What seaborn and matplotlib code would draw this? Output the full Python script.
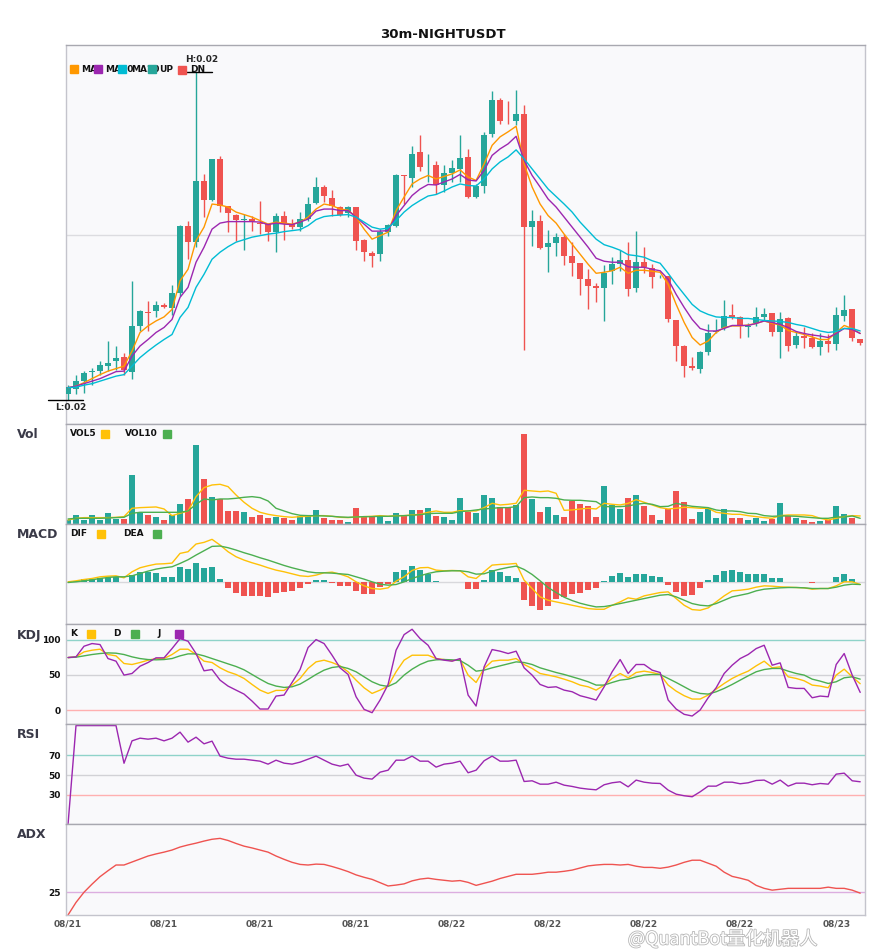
import numpy as np
import pandas as pd
import matplotlib
matplotlib.use("Agg")
import matplotlib.pyplot as plt
import matplotlib.patheffects as pe
from matplotlib.patches import Rectangle
import seaborn as sns

# ------------------------------------------------------------
# Data, prices in 1e-5 USDT
# ------------------------------------------------------------
opens = [1683, 1693, 1708, 1726, 1728, 1739, 1748, 1756, 1727, 1818,
         1845, 1847, 1860, 1853, 1884, 2018, 1985, 2106, 2070, 2150,
         2058, 2040, 2029, 2032, 2024, 2021, 2005, 2038, 2021, 2015,
         2031, 2063, 2094, 2074, 2055, 2043, 2055, 1990, 1963, 1961,
         2006, 2018, 2118, 2113, 2164, 2134, 2138, 2098, 2123, 2131,
         2154, 2076, 2097, 2201, 2269, 2227, 2227, 2240, 2015, 2028,
         1975, 1983, 1995, 1958, 1943, 1911, 1898, 1893, 1927, 1941,
         1949, 1893, 1946, 1933, 1915, 1918, 1830, 1778, 1738, 1733,
         1767, 1805, 1813, 1840, 1836, 1815, 1823, 1836, 1844, 1805,
         1833, 1780, 1798, 1795, 1777, 1789, 1783, 1838, 1852, 1792]
highs = [1701, 1721, 1728, 1735, 1749, 1788, 1778, 1765, 1907, 1850,
         1868, 1868, 1863, 1900, 2020, 2028, 2325, 2121, 2151, 2156,
         2058, 2041, 2041, 2038, 2068, 2023, 2043, 2048, 2031, 2045,
         2075, 2115, 2098, 2088, 2058, 2058, 2055, 1991, 1968, 2011,
         2021, 2121, 2118, 2176, 2198, 2160, 2146, 2138, 2148, 2198,
         2170, 2101, 2204, 2286, 2273, 2266, 2288, 2258, 2049, 2040,
         2010, 2003, 2001, 1985, 1943, 1931, 1903, 1940, 1955, 1969,
         1985, 2008, 1976, 1941, 1920, 1918, 1830, 1780, 1756, 1769,
         1821, 1831, 1870, 1861, 1838, 1823, 1856, 1853, 1844, 1846,
         1835, 1806, 1815, 1803, 1804, 1801, 1856, 1880, 1852, 1792]
lows = [1671, 1683, 1685, 1701, 1720, 1728, 1731, 1721, 1713, 1808,
        1808, 1835, 1853, 1840, 1878, 1951, 1975, 2035, 2068, 2045,
        2005, 1988, 1970, 2008, 2001, 1988, 1965, 1990, 2011, 2008,
        2028, 2061, 2065, 2038, 2037, 2035, 1970, 1947, 1936, 1948,
        1997, 2015, 2061, 2095, 2127, 2105, 2081, 2085, 2105, 2105,
        2073, 2073, 2083, 2195, 2220, 2221, 2218, 1770, 1978, 1971,
        1925, 1958, 1940, 1918, 1880, 1851, 1865, 1828, 1901, 1928,
        1877, 1885, 1923, 1893, 1913, 1825, 1748, 1717, 1731, 1725,
        1760, 1803, 1809, 1831, 1795, 1796, 1818, 1829, 1798, 1755,
        1768, 1775, 1775, 1775, 1760, 1767, 1771, 1828, 1789, 1780]
closes = [1696, 1709, 1724, 1728, 1740, 1745, 1755, 1731, 1818, 1847,
          1843, 1860, 1855, 1884, 2018, 1985, 2106, 2070, 2150, 2057,
          2043, 2030, 2030, 2028, 2022, 2005, 2038, 2021, 2015, 2031,
          2061, 2094, 2077, 2057, 2040, 2055, 1988, 1965, 1958, 2005,
          2020, 2118, 2116, 2161, 2135, 2135, 2098, 2123, 2132, 2152,
          2075, 2097, 2198, 2268, 2226, 2226, 2241, 2015, 2028, 1973,
          1983, 1995, 1957, 1943, 1911, 1898, 1893, 1923, 1941, 1949,
          1891, 1946, 1935, 1915, 1916, 1831, 1779, 1739, 1735, 1766,
          1804, 1807, 1837, 1835, 1817, 1817, 1836, 1841, 1806, 1832,
          1778, 1798, 1795, 1777, 1788, 1783, 1840, 1850, 1795, 1785]

ma5 = [1695, 1698, 1705, 1713, 1721, 1728, 1733, 1738, 1768, 1805,
       1818, 1828, 1836, 1851, 1908, 1931, 1988, 2015, 2061, 2059,
       2055, 2045, 2040, 2035, 2028, 2021, 2025, 2023, 2021, 2025,
       2035, 2051, 2061, 2058, 2051, 2049, 2035, 2011, 1991, 1998,
       2005, 2048, 2075, 2101, 2111, 2118, 2111, 2116, 2121, 2129,
       2115, 2108, 2141, 2178, 2195, 2205, 2216, 2141, 2095, 2061,
       2038, 2023, 2001, 1981, 1961, 1941, 1923, 1925, 1928, 1935,
       1923, 1929, 1929, 1927, 1925, 1901, 1861, 1825, 1795, 1780,
       1788, 1805, 1815, 1818, 1818, 1820, 1823, 1828, 1823, 1820,
       1809, 1805, 1801, 1796, 1791, 1791, 1805, 1819, 1813, 1803]
ma10 = [1695, 1698, 1703, 1708, 1713, 1720, 1727, 1728, 1758, 1778,
        1791, 1805, 1815, 1831, 1875, 1895, 1945, 1975, 2011, 2023,
        2026, 2026, 2026, 2026, 2025, 2020, 2023, 2021, 2020, 2025,
        2031, 2047, 2051, 2051, 2048, 2048, 2035, 2021, 2007, 2007,
        2008, 2038, 2058, 2078, 2091, 2100, 2099, 2105, 2111, 2120,
        2109, 2107, 2128, 2158, 2171, 2181, 2196, 2148, 2118, 2095,
        2071, 2055, 2035, 2015, 1995, 1975, 1953, 1947, 1945, 1945,
        1936, 1935, 1935, 1931, 1928, 1911, 1881, 1855, 1831, 1813,
        1808, 1808, 1813, 1819, 1819, 1819, 1823, 1828, 1825, 1821,
        1815, 1807, 1803, 1800, 1798, 1795, 1803, 1813, 1811, 1803]
ma20 = [1695, 1696, 1700, 1703, 1708, 1713, 1718, 1721, 1738, 1755,
        1768, 1780, 1791, 1801, 1835, 1855, 1895, 1921, 1951, 1965,
        1976, 1985, 1990, 1995, 1998, 2001, 2003, 2006, 2008, 2010,
        2018, 2030, 2036, 2038, 2039, 2040, 2035, 2025, 2015, 2011,
        2013, 2028, 2045, 2058, 2068, 2077, 2080, 2087, 2095, 2101,
        2098, 2097, 2111, 2131, 2145, 2155, 2169, 2151, 2131, 2111,
        2091, 2076, 2061, 2045, 2025, 2008, 1991, 1980, 1975, 1969,
        1960, 1958, 1955, 1948, 1943, 1923, 1901, 1881, 1861, 1848,
        1841, 1836, 1835, 1835, 1833, 1833, 1831, 1829, 1828, 1827,
        1825, 1821, 1818, 1813, 1808, 1805, 1807, 1813, 1813, 1808]

volume = [13, 28, 13, 28, 13, 34, 16, 16, 148, 36,
          28, 22, 13, 28, 61, 76, 238, 136, 82, 76,
          40, 40, 37, 22, 28, 19, 22, 19, 13, 25,
          25, 43, 19, 13, 13, 7, 49, 25, 25, 25,
          10, 34, 28, 43, 43, 49, 25, 22, 13, 79,
          38, 34, 88, 79, 52, 52, 58, 271, 76, 37,
          52, 28, 22, 70, 61, 55, 22, 115, 58, 46,
          79, 88, 55, 28, 13, 46, 100, 67, 16, 37,
          49, 19, 46, 19, 19, 13, 19, 10, 16, 64,
          25, 19, 13, 7, 10, 13, 55, 31, 19, 2]
vol5 = [13, 18, 20, 20, 20, 20, 21, 23, 48, 50,
        51, 52, 46, 26, 33, 40, 83, 110, 118, 120,
        113, 88, 66, 48, 36, 30, 26, 23, 21, 23,
        24, 26, 26, 24, 21, 20, 22, 23, 24, 26,
        24, 26, 26, 28, 30, 36, 40, 36, 36, 41,
        40, 40, 50, 63, 58, 60, 63, 102, 100, 98,
        100, 93, 42, 43, 46, 48, 46, 63, 60, 58,
        63, 74, 66, 58, 50, 46, 48, 51, 50, 48,
        48, 36, 33, 30, 30, 26, 23, 20, 18, 26,
        28, 28, 28, 26, 18, 13, 18, 23, 26, 25]
vol10 = [16, 18, 18, 18, 18, 19, 20, 21, 33, 36,
         36, 36, 36, 36, 36, 40, 60, 76, 73, 76,
         76, 78, 81, 83, 80, 70, 48, 40, 32, 27,
         26, 26, 25, 24, 22, 21, 22, 23, 23, 24,
         24, 25, 26, 27, 29, 32, 33, 33, 33, 38,
         40, 43, 46, 48, 50, 50, 53, 80, 82, 80,
         80, 78, 73, 72, 72, 70, 68, 53, 53, 53,
         55, 60, 63, 60, 53, 54, 63, 58, 54, 52,
         50, 43, 40, 40, 38, 33, 32, 26, 24, 25,
         25, 24, 22, 20, 18, 18, 22, 22, 25, 18]

dif = [0, 3, 7, 10, 15, 17, 18, 12, 30, 42,
       48, 53, 54, 56, 85, 90, 113, 118, 127, 110,
       90, 75, 65, 57, 50, 42, 35, 30, 24, 18,
       16, 20, 27, 29, 23, 15, 0, -12, -20, -22,
       -18, 2, 15, 34, 42, 43, 35, 33, 34, 33,
       15, 10, 30, 50, 52, 53, 55, 5, -20, -45,
       -55, -60, -65, -70, -75, -80, -82, -82, -70, -60,
       -48, -52, -42, -37, -32, -30, -50, -70, -83, -85,
       -78, -60, -42, -27, -25, -22, -16, -12, -13, -15,
       -16, -17, -18, -22, -20, -20, -12, 0, 0, -8]
dea = [-2, 0, 3, 6, 10, 13, 15, 15, 18, 25,
       32, 38, 42, 45, 55, 66, 80, 93, 106, 107,
       102, 95, 87, 80, 72, 65, 57, 49, 42, 36,
       30, 27, 27, 26, 24, 22, 15, 8, 0, -7,
       -10, -8, 0, 10, 18, 25, 30, 32, 33, 33,
       30, 23, 24, 32, 38, 43, 47, 37, 22, 3,
       -17, -32, -46, -56, -64, -70, -75, -74, -70, -65,
       -60, -55, -50, -45, -40, -38, -45, -55, -65, -70,
       -72, -65, -55, -45, -40, -35, -27, -22, -20, -18,
       -17, -17, -18, -20, -20, -20, -16, -10, -7, -8]
macd_hist = [0, 1, 8, 8, 12, 12, 15, 0, 20, 30,
             30, 26, 14, 14, 45, 38, 56, 41, 44, 8,
             -18, -33, -42, -42, -42, -45, -33, -30, -27, -18,
             -6, 5, 5, -3, -12, -12, -27, -36, -36, -15,
             -6, 30, 35, 47, 35, 23, 2, 0, -2, 0,
             -20, -20, 6, 35, 28, 18, 12, -54, -72, -84,
             -72, -52, -44, -36, -32, -24, -18, 3, 17, 27,
             15, 24, 24, 18, 15, -8, -30, -42, -38, -18,
             6, 20, 33, 36, 30, 24, 24, 24, 12, 12,
             -2, -2, -2, -5, -2, 0, 15, 24, 9, 0]

kdj_k = [74.6, 75.6, 82.6, 85, 86.4, 78.9, 77, 66.2, 64.8, 67.6,
         70.9, 73.2, 73.2, 78.9, 86.4, 86.4, 78.9, 69.5, 67.6, 60.1,
         54.5, 50.7, 45.1, 36.6, 28.6, 23.9, 28.2, 28.2, 35.7, 45.1,
         59.2, 68.5, 70.9, 67.6, 62.9, 54.5, 42.7, 31.9, 23.9, 28.6,
         34.3, 54.5, 70.9, 77.9, 77.9, 77.9, 73.2, 71.8, 70, 71.8,
         49.8, 39.4, 59.2, 69.5, 70.9, 70.9, 73.2, 64.8, 59.2, 52.1,
         49.8, 47.4, 44.1, 40.4, 35.7, 33.3, 28.6, 35.7, 45.1, 52.1,
         46, 53.5, 55.4, 53.5, 50.7, 35.7, 27.2, 20.7, 16, 16,
         21.6, 30, 38, 45.1, 50.7, 55.4, 62.9, 69.5, 60.1, 61.5,
         47.4, 45.1, 41.8, 35.7, 34.3, 31.9, 49.8, 58.2, 47.4, 37.6]
kdj_d = [74.6, 75.1, 77, 78.9, 80.3, 81.2, 80.8, 78.9, 75.6, 73.2,
         71.8, 71.4, 71.8, 73.2, 77, 79.8, 79.8, 77, 73.2, 69.5,
         65.7, 62, 57.3, 50.7, 44.1, 38, 34.3, 32.4, 33.3, 37.1,
         43.7, 50.7, 56.8, 60.6, 62, 59.2, 54.5, 47.4, 40.4, 35.7,
         33.8, 39, 49.8, 58.2, 64.8, 69.5, 71.4, 71.8, 71.4, 70.4,
         63.8, 55.4, 56.8, 60.1, 62.9, 65.7, 68.5, 67.6, 64.8, 60.1,
         56.8, 53.5, 50.7, 47.4, 44.1, 40.4, 35.7, 35.7, 39.4, 42.7,
         44.1, 47.4, 49.8, 50.7, 50.7, 45.1, 39.4, 33.3, 27.2, 23.9,
         23, 26.3, 31, 36.6, 42.7, 48.8, 54.5, 57.7, 59.2, 59.2,
         55.4, 52.1, 49.8, 44.1, 41.3, 38, 40.4, 46, 47.4, 44.1]
kdj_j = [74.6, 75.6, 90.6, 94.4, 93, 73.2, 69.5, 49.8, 52.1, 62.4,
         67.6, 74.2, 74.2, 87.3, 101.4, 97.7, 80.3, 55.9, 57.7, 42.7,
         34.3, 28.6, 23, 13.1, 1.9, 1.9, 20.2, 21.6, 39.4, 57.7,
         88.7, 100, 94.4, 77.9, 60.1, 50.7, 19.2, 1.4, -3.3, 14.6,
         36.6, 85, 107, 114.6, 101.4, 92, 73.2, 70.9, 69.5, 73.2,
         21.6, 6.1, 61.5, 85.9, 83.6, 80.3, 83.6, 60.1, 49.8, 36.6,
         32.4, 33.3, 28.6, 26.3, 20.7, 17.8, 14.6, 33.3, 54.5, 71.8,
         52.1, 64.8, 64.8, 56.8, 53.5, 14.6, 1.9, -5.6, -8, 0.5,
         17.8, 31.9, 52.1, 63.8, 73.2, 78.9, 87.3, 92, 63.8, 67.1,
         32.4, 31, 31, 17.8, 20.2, 19.2, 64.8, 80.3, 49.8, 25.4]

rsi = [0, 100, 100, 100, 100, 100, 100, 62, 84.6, 87.3,
       86.3, 87.3, 84.6, 87.3, 93.4, 83.3, 88.3, 81.6, 84.3, 69.2,
       67.1, 66.1, 66.1, 65.1, 64.1, 61.1, 65.1, 62.1, 61.1, 63.1,
       66.1, 69.2, 65.1, 61.1, 59.1, 61.1, 50, 47, 46, 53,
       55, 65.1, 65.1, 69.2, 64.1, 64.1, 58.1, 61.1, 62.1, 64.1,
       52.4, 55, 64.5, 69.2, 64.1, 64.1, 65.1, 43.6, 44.3, 40.9,
       40.9, 42.9, 39.9, 38.6, 36.9, 35.9, 35.2, 40.3, 42.3, 43.3,
       38.2, 45, 42.9, 41.9, 41.6, 34.9, 30.8, 29.2, 28.2, 33.2,
       38.9, 38.9, 42.9, 42.9, 41.3, 42.3, 44.6, 45, 40.9, 45,
       38.9, 41.9, 41.9, 40.3, 41.6, 40.9, 51, 52, 44.3, 43.3]

adx = [17.4, 21.6, 25, 27.7, 30.2, 32.2, 34.1, 34.1, 35.1, 36.1,
       37.1, 37.8, 38.4, 39.1, 40.1, 40.8, 41.4, 42.1, 42.7, 43,
       42.3, 41.3, 40.4, 39.8, 39.1, 38.4, 37.1, 36, 35, 34.3,
       34.1, 34.4, 34.3, 33.6, 32.8, 31.9, 30.8, 30, 29.3, 28.2,
       27.1, 27.4, 27.8, 28.8, 29.4, 29.7, 29.3, 29, 28.7, 28.9,
       28.3, 27.3, 28, 28.7, 29.6, 30.3, 31, 31, 31, 31.3,
       31.7, 31.7, 32, 32.4, 33.1, 33.8, 34.1, 34.3, 34.3, 34.1,
       34.3, 33.7, 33.3, 33.3, 33, 33.4, 34.1, 35, 35.7, 35.7,
       34.7, 33.7, 31.7, 30.3, 29.7, 29, 27.3, 26.3, 25.7, 26,
       26.3, 26.3, 26.3, 26.3, 26.3, 26.7, 26.3, 26.3, 25.7, 24.7]

date_ticks = [0, 12, 24, 36, 48, 60, 72, 84, 96]
date_labels = ["08/21", "08/21", "08/21", "08/21", "08/22",
               "08/22", "08/22", "08/22", "08/23"]

# ------------------------------------------------------------
# Styling
# ------------------------------------------------------------
sns.set_theme(style="white")
plt.rcParams["font.family"] = ["DejaVu Sans"]

UP = "#26a69a"
DN = "#ef5350"
C_MA5, C_MA10, C_MA20 = "#ff9800", "#9c27b0", "#00bcd4"
C_YEL, C_GRN, C_PUR = "#ffc107", "#4caf50", "#9c27b0"
FACE = "#f9f9fb"
EDGE = "#c4c4cc"

W, H = 885, 950
fig = plt.figure(figsize=(W / 100, H / 100), dpi=100)
fig.patch.set_facecolor("white")


def fx(px):
    return px / W


def fy(py):
    return 1 - py / H


def add_panel(top, bottom):
    ax = fig.add_axes([fx(66), fy(bottom), (865 - 66) / W, (bottom - top) / H])
    ax.set_facecolor(FACE)
    for s in ax.spines.values():
        s.set_color(EDGE)
        s.set_linewidth(1.0)
    ax.spines["top"].set_color("#a8a8b0")
    ax.set_xlim(-0.25, 99.6)
    ax.set_xticks([])
    ax.set_yticks([])
    ax.tick_params(length=0)
    return ax


def legend_item(x_text, y, label, color, x_sq, size=8):
    fig.text(fx(x_text), fy(y), label, fontsize=6.5, fontweight="bold",
             color="#111111", va="center", ha="left", zorder=3)
    fig.patches.append(Rectangle((fx(x_sq), fy(y + size / 2)), size / W, size / H,
                                 transform=fig.transFigure, color=color,
                                 zorder=5, figure=fig))


df = pd.DataFrame({
    "i": np.arange(len(closes)),
    "open": np.array(opens) / 1e5, "high": np.array(highs) / 1e5,
    "low": np.array(lows) / 1e5, "close": np.array(closes) / 1e5,
    "ma5": np.array(ma5) / 1e5, "ma10": np.array(ma10) / 1e5,
    "ma20": np.array(ma20) / 1e5,
    "vol": volume, "vol5": vol5, "vol10": vol10,
    "dif": dif, "dea": dea, "hist": macd_hist,
    "k": kdj_k, "d": kdj_d, "j": kdj_j, "rsi": rsi, "adx": adx,
})
up = df["close"] >= df["open"]
bar_colors = np.where(up, UP, DN)

# ------------------------------------------------------------
# Price panel
# ------------------------------------------------------------
ax = add_panel(45, 424.3)
ax.set_ylim(0.01622, 0.02378)
ax.axhline(0.02, color="#dcdce0", lw=1, zorder=0)
ax.vlines(df["i"], df["low"], df["high"], colors=bar_colors, lw=1.0, zorder=2)
body_low = np.minimum(df["open"], df["close"])
body_h = np.maximum((df["close"] - df["open"]).abs(), 1.5e-5)
ax.bar(df["i"], body_h, bottom=body_low, width=0.74, color=bar_colors,
       linewidth=0, zorder=3)
for col, c in [("ma5", C_MA5), ("ma10", C_MA10), ("ma20", C_MA20)]:
    sns.lineplot(data=df, x="i", y=col, ax=ax, color=c, lw=1.0, legend=False, zorder=4)
ax.set_xlabel("")
ax.set_ylabel("")

hi_i = int(df["high"].idxmax())
lo_i = int(df["low"].idxmin())
hi_v, lo_v = df["high"].max(), df["low"].min()
ax.plot([hi_i - 1.4, hi_i + 2.0], [hi_v, hi_v], color="black", lw=1, clip_on=False, zorder=6)
ax.text(hi_i - 1.4, hi_v + 0.00016, f"H:{hi_v:.2f}", fontsize=6.5, fontweight="bold",
        ha="left", va="bottom", zorder=6)
ax.plot([lo_i - 2.5, lo_i + 1.9], [lo_v, lo_v], color="black", lw=1, clip_on=False, zorder=6)
ax.text(lo_i + 0.4, lo_v - 0.00007, f"L:{lo_v:.2f}", fontsize=6.5, fontweight="bold",
        ha="center", va="top", clip_on=False)

legend_item(81, 69, "MA5", C_MA5, 70)
legend_item(105, 69, "MA10", C_MA10, 94)
legend_item(131, 69, "MA20", C_MA20, 118)
legend_item(159, 69, "UP", UP, 148)
legend_item(190, 70, "DN", DN, 178)

# ------------------------------------------------------------
# Volume panel
# ------------------------------------------------------------
axv = add_panel(424.3, 524.3)
axv.set_ylim(0, 300)
axv.bar(df["i"], df["vol"], width=0.74, color=bar_colors, linewidth=0)
sns.lineplot(data=df, x="i", y="vol5", ax=axv, color=C_YEL, lw=1.0, legend=False)
sns.lineplot(data=df, x="i", y="vol10", ax=axv, color=C_GRN, lw=1.0, legend=False)
axv.set_xlabel("")
axv.set_ylabel("")
legend_item(70, 434, "VOL5", C_YEL, 101)
legend_item(125, 434, "VOL10", C_GRN, 163)

# ------------------------------------------------------------
# MACD panel
# ------------------------------------------------------------
axm = add_panel(524.3, 624.3)
axm.set_ylim(-127, 172)
axm.axhline(0, color="#d8d8dc", lw=1, zorder=0)
hist_colors = np.where(df["hist"] >= 0, UP, DN)
axm.bar(df["i"], df["hist"], width=0.74, color=hist_colors, linewidth=0)
sns.lineplot(data=df, x="i", y="dif", ax=axm, color=C_YEL, lw=1.0, legend=False)
sns.lineplot(data=df, x="i", y="dea", ax=axm, color=C_GRN, lw=1.0, legend=False)
axm.set_xlabel("")
axm.set_ylabel("")
legend_item(70, 534, "DIF", C_YEL, 97)
legend_item(123, 534, "DEA", C_GRN, 153)

# ------------------------------------------------------------
# KDJ panel
# ------------------------------------------------------------
axk = add_panel(624.3, 724.3)
axk.set_ylim(-19.7, 121.6)
axk.axhline(100, color="#8fd3c9", lw=1, zorder=0)
axk.axhline(50, color="#d2d2d6", lw=1, zorder=0)
axk.axhline(0, color="#ffb0b0", lw=1, zorder=0)
sns.lineplot(data=df, x="i", y="k", ax=axk, color=C_YEL, lw=1.0, legend=False)
sns.lineplot(data=df, x="i", y="d", ax=axk, color=C_GRN, lw=1.0, legend=False)
sns.lineplot(data=df, x="i", y="j", ax=axk, color=C_PUR, lw=1.0, legend=False)
axk.set_xlabel("")
axk.set_ylabel("")
axk.set_yticks([0, 50, 100])
legend_item(70, 633.5, "K", C_YEL, 87)
legend_item(113, 633.5, "D", C_GRN, 131)
legend_item(157, 633.5, "J", C_PUR, 175)

# ------------------------------------------------------------
# RSI panel
# ------------------------------------------------------------
axr = add_panel(724.3, 824.3)
axr.set_ylim(0.4, 101.3)
axr.axhline(70, color="#8fd3c9", lw=1, zorder=0)
axr.axhline(50, color="#d2d2d6", lw=1, zorder=0)
axr.axhline(30, color="#ffb0b0", lw=1, zorder=0)
sns.lineplot(data=df, x="i", y="rsi", ax=axr, color=C_PUR, lw=1.0, legend=False)
axr.set_xlabel("")
axr.set_ylabel("")
axr.set_yticks([30, 50, 70])

# ------------------------------------------------------------
# ADX panel
# ------------------------------------------------------------
axa = add_panel(824.3, 915)
axa.set_ylim(17.4, 47.7)
axa.axhline(25, color="#dcaee0", lw=1, zorder=0)
sns.lineplot(data=df, x="i", y="adx", ax=axa, color=DN, lw=1.0, legend=False)
axa.set_xlabel("")
axa.set_ylabel("")
axa.set_yticks([25])
axa.set_xticks(date_ticks)
axa.set_xticklabels(date_labels)
axa.tick_params(axis="x", length=0, pad=3, labelsize=6.5, labelcolor="#555555")
for lab in axa.get_xticklabels():
    lab.set_fontweight("bold")

for a in (axk, axr, axa):
    a.tick_params(axis="y", length=0, pad=4, labelsize=6.5, labelcolor="#111111")
    for lab in a.get_yticklabels():
        lab.set_fontweight("bold")

# panel names on the left
for name, y in [("Vol", 434.5), ("MACD", 535), ("KDJ", 635), ("RSI", 735), ("ADX", 835)]:
    fig.text(fx(17), fy(y), name, fontsize=9, fontweight="bold", color="#3a3a48",
             ha="left", va="center")

fig.text(fx(443), fy(34), "30m-NIGHTUSDT", fontsize=9.5, fontweight="bold",
         color="#111111", ha="center", va="center")

# watermark of the source image, kept just below the date labels
wm = fig.text(fx(628), fy(939), "@QuantBot量化机器人", fontsize=13,
              family=["Noto Sans CJK SC", "DejaVu Sans"], color="white",
              ha="left", va="center", zorder=10)
wm.set_path_effects([pe.Stroke(linewidth=1.2, foreground="#b8b8b8"), pe.Normal()])

fig.savefig("out.png", dpi=100)
